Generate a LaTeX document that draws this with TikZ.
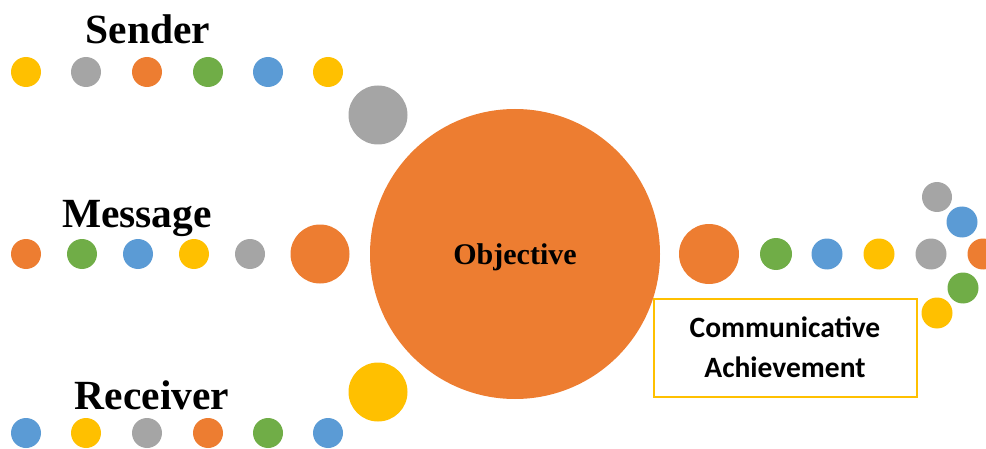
\documentclass[tikz,border=0pt]{standalone}
\usepackage{fontspec}
\setmainfont{Liberation Serif}
\newfontfamily\carlito{Carlito}
\definecolor{cOrange}{HTML}{ED7D31}
\definecolor{cGray}{HTML}{A5A5A5}
\definecolor{cYellow}{HTML}{FFC000}
\definecolor{cBlue}{HTML}{5B9BD5}
\definecolor{cGreen}{HTML}{70AD47}
\tikzset{
  dot/.style={circle, fill=#1, draw=none, minimum size=30pt, inner sep=0pt},
  bigdot/.style={circle, fill=#1, draw=none, minimum size=59pt, inner sep=0pt},
  rowlabel/.style={font=\bfseries\fontsize{41.5}{41.5}\selectfont, anchor=base, inner sep=0pt},
  boxtext/.style={font=\carlito\bfseries\fontsize{29.5}{29.5}\selectfont, anchor=base, inner sep=0pt},
}
\begin{document}
\begin{tikzpicture}[x=1pt,y=1pt]
\useasboundingbox (0,0) rectangle (986,448);
% Sender row
\node[rowlabel] (senderlbl) at (148,404) {Sender};
\node[dot=cYellow] (s1) at (26,376) {};
\node[dot=cGray] (s2) at (86,376) {};
\node[dot=cOrange] (s3) at (147,376) {};
\node[dot=cGreen] (s4) at (208,376) {};
\node[dot=cBlue] (s5) at (268,376) {};
\node[dot=cYellow] (s6) at (328,376) {};
\node[bigdot=cGray] (sbig) at (378,333) {};
% Message row
\node[rowlabel] (msglbl) at (137,220) {Message};
\node[dot=cOrange] (m1) at (26,194) {};
\node[dot=cGreen] (m2) at (82,194) {};
\node[dot=cBlue] (m3) at (138,194) {};
\node[dot=cYellow] (m4) at (194,194) {};
\node[dot=cGray] (m5) at (250,194) {};
\node[bigdot=cOrange] (mbig) at (320,194) {};
% Receiver row
\node[rowlabel] (rcvlbl) at (152,39) {Receiver};
\node[dot=cBlue] (r1) at (26,15) {};
\node[dot=cYellow] (r2) at (86,15) {};
\node[dot=cGray] (r3) at (147,15) {};
\node[dot=cOrange] (r4) at (208,15) {};
\node[dot=cGreen] (r5) at (268,15) {};
\node[dot=cBlue] (r6) at (328,15) {};
\node[bigdot=cYellow] (rbig) at (378,56) {};
% Objective
\node[circle, fill=cOrange, draw=none, minimum size=290pt, inner sep=0pt] (obj) at (515,194) {};
\node[font=\bfseries\fontsize{30}{30}\selectfont, anchor=base, inner sep=0pt] (objlbl) at (515,184) {Objective};
% Right row
\node[bigdot=cOrange, minimum size=60pt] (obig) at (709,194) {};
\node[dot=cGreen, minimum size=32pt] (o1) at (776,194) {};
\node[dot=cBlue, minimum size=31pt] (o2) at (827,194) {};
\node[dot=cYellow, minimum size=31pt] (o3) at (879,194) {};
\node[dot=cGray, minimum size=31pt] (o4) at (931,194) {};
\node[dot=cOrange, minimum size=31pt] (o5) at (983,194) {};
\node[dot=cGray] (t1) at (937,251) {};
\node[dot=cBlue, minimum size=31pt] (t2) at (962,226) {};
\node[dot=cGreen, minimum size=31pt] (b1) at (963,160) {};
\node[dot=cYellow, minimum size=31pt] (b2) at (937,135) {};
% Box
\draw[cYellow, line width=1.5pt] (654,51) rectangle (917,149);
\node[boxtext] (ca1) at (785,111) {Communicative};
\node[boxtext] (ca2) at (785,71) {Achievement};
\end{tikzpicture}
\end{document}
